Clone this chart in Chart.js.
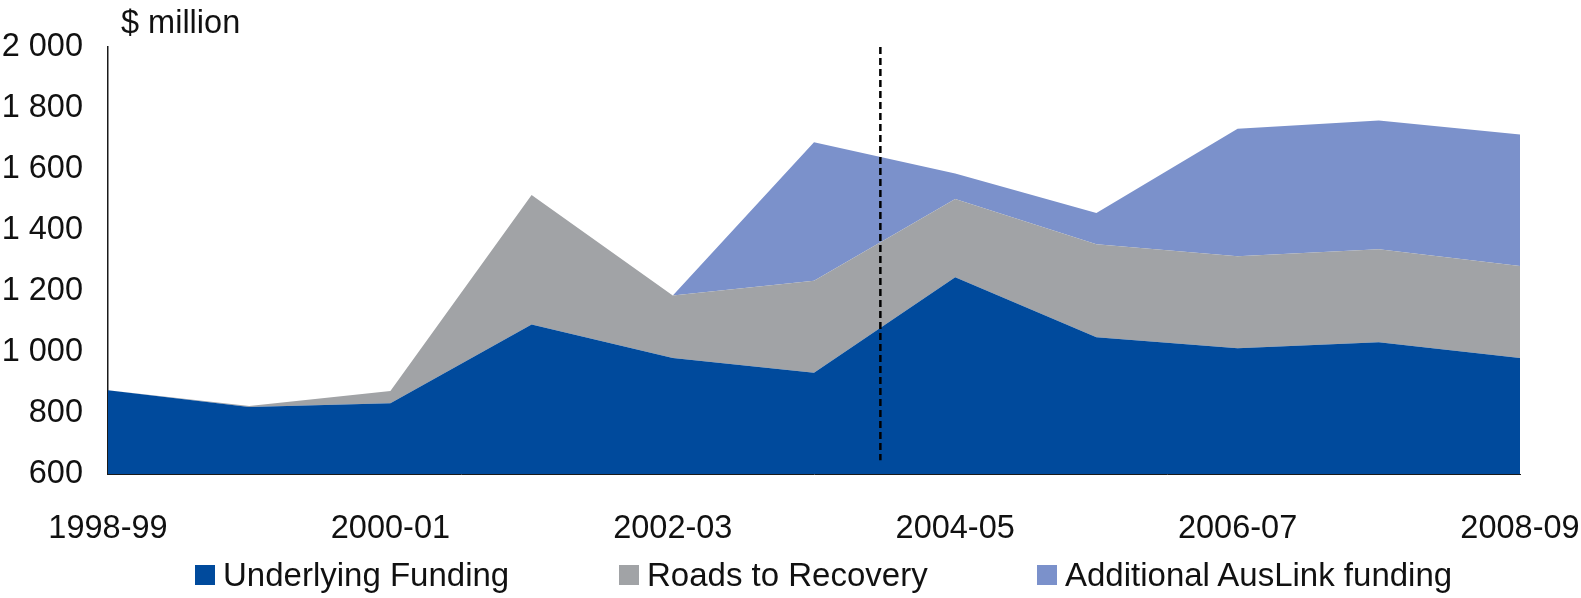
<!DOCTYPE html>
<html>
<head>
<meta charset="utf-8">
<title>Road funding</title>
<script src="https://cdn.jsdelivr.net/npm/chart.js@4"></script>
<style>
  html, body { margin: 0; padding: 0; background: #fff; }
  #wrap { position: relative; width: 1581px; height: 598px; }
  #legend {
    position: absolute; left: 0; top: 556px; width: 1581px; height: 36px;
    font-family: "Liberation Sans", Arial, sans-serif; font-size: 33px; color: #111;
  }
  .item { position: absolute; top: 0; display: flex; align-items: center; white-space: nowrap; }
  .swatch { width: 20px; height: 20px; margin-right: 8px; }
</style>
</head>
<body>
<div id="wrap">
  <canvas id="my-chart"></canvas>
  <div id="legend"></div>
</div>
<script>
'use strict';

// ************** Data ***************

let years = ['1998-99', '1999-00', '2000-01', '2001-02', '2002-03', '2003-04',
  '2004-05', '2005-06', '2006-07', '2007-08', '2008-09'];

let underlyingFunding = [875, 820, 832, 1090, 980, 932, 1245, 1048, 1012, 1032, 980];
let roadsToRecovery = [0, 3, 40, 425, 205, 302, 257, 305, 302, 305, 302];
let additionalAusLink = [0, 0, 0, 0, 0, 454, 83, 103, 418, 422, 431];

let seriesNames = ['Underlying Funding', 'Roads to Recovery', 'Additional AusLink funding'];
let seriesColors = ['#004a9c', '#a1a3a6', '#7b91cb'];

let yMin = 600;
let yMax = 2000;
let yStep = 200;

// dashed divider sits between 2003-04 and 2004-05
let dividerIndex = 5.47;
let dividerTop = 2000;
let dividerBottom = 645;

let fontName = '"Liberation Sans", Arial, sans-serif';
let fontSize = 32.5;

// ************** Helpers ***************

function formatTick(value) {
  if (value >= 1000) {
    return Math.floor(value / 1000) + ' ' + String(value % 1000).padStart(3, '0');
  }
  return String(value);
}

// ************** Plugins ***************

let dividerPlugin = {
  id: 'divider',
  afterDatasetsDraw(chart) {
    let c = chart.ctx;
    let x = chart.scales.x.getPixelForValue(dividerIndex);
    c.save();
    c.strokeStyle = '#000';
    c.lineWidth = 2.5;
    c.setLineDash([7, 4]);
    c.beginPath();
    c.moveTo(x, chart.scales.y.getPixelForValue(dividerTop));
    c.lineTo(x, chart.scales.y.getPixelForValue(dividerBottom));
    c.stroke();
    c.restore();
  }
};

let unitPlugin = {
  id: 'unitLabel',
  afterDraw(chart) {
    let c = chart.ctx;
    c.save();
    c.font = fontSize + 'px ' + fontName;
    c.fillStyle = '#111';
    c.textBaseline = 'middle';
    c.fillText('$ million', 121, 24);
    c.restore();
  }
};

// ************** Chart ***************

let ctx = document.getElementById('my-chart').getContext('2d');

let seriesValues = [underlyingFunding, roadsToRecovery, additionalAusLink];
let datasets = [];
for (let i = 0; i < seriesValues.length; i++) {
  datasets.push({
    label: seriesNames[i],
    data: seriesValues[i],
    backgroundColor: seriesColors[i],
    borderWidth: 0,
    pointRadius: 0,
    tension: 0,
    fill: i === 0 ? 'start' : '-1'
  });
}

new Chart(ctx, {
  type: 'line',
  data: { labels: years, datasets: datasets },
  options: {
    responsive: true,
    maintainAspectRatio: false,
    animation: false,
    layout: { padding: { top: 47, right: 61, bottom: 0, left: 0 } },
    plugins: {
      legend: { display: false },
      tooltip: { enabled: false }
    },
    scales: {
      x: {
        offset: false,
        grid: { display: false, drawTicks: false },
        border: { display: true, color: '#1a1a1a', width: 1 },
        ticks: {
          autoSkip: false,
          maxRotation: 0,
          padding: 36,
          color: '#111',
          font: { family: fontName, size: fontSize },
          callback: function (value, index) {
            return index % 2 === 0 ? years[index] : '';
          }
        },
        afterFit: function (scale) {
          scale.height = 124;
          // labels may overhang the plot; keep the plot edges fixed
          scale.paddingLeft = 0;
          scale.paddingRight = 0;
        }
      },
      y: {
        stacked: true,
        min: yMin,
        max: yMax,
        grid: { display: false, drawTicks: false },
        border: { display: true, color: '#1a1a1a', width: 1.5 },
        ticks: {
          stepSize: yStep,
          padding: 25,
          color: '#111',
          font: { family: fontName, size: fontSize },
          callback: formatTick
        },
        afterFit: function (scale) { scale.width = 108; }
      }
    }
  },
  plugins: [dividerPlugin, unitPlugin]
});

// ************** Legend ***************

let legendLefts = [195, 619, 1037];
let legendBox = document.getElementById('legend');
for (let i = 0; i < seriesNames.length; i++) {
  let item = document.createElement('div');
  item.className = 'item';
  item.style.left = legendLefts[i] + 'px';
  let swatch = document.createElement('span');
  swatch.className = 'swatch';
  swatch.style.background = seriesColors[i];
  let text = document.createElement('span');
  text.textContent = seriesNames[i];
  item.appendChild(swatch);
  item.appendChild(text);
  legendBox.appendChild(item);
}
</script>
</body>
</html>
